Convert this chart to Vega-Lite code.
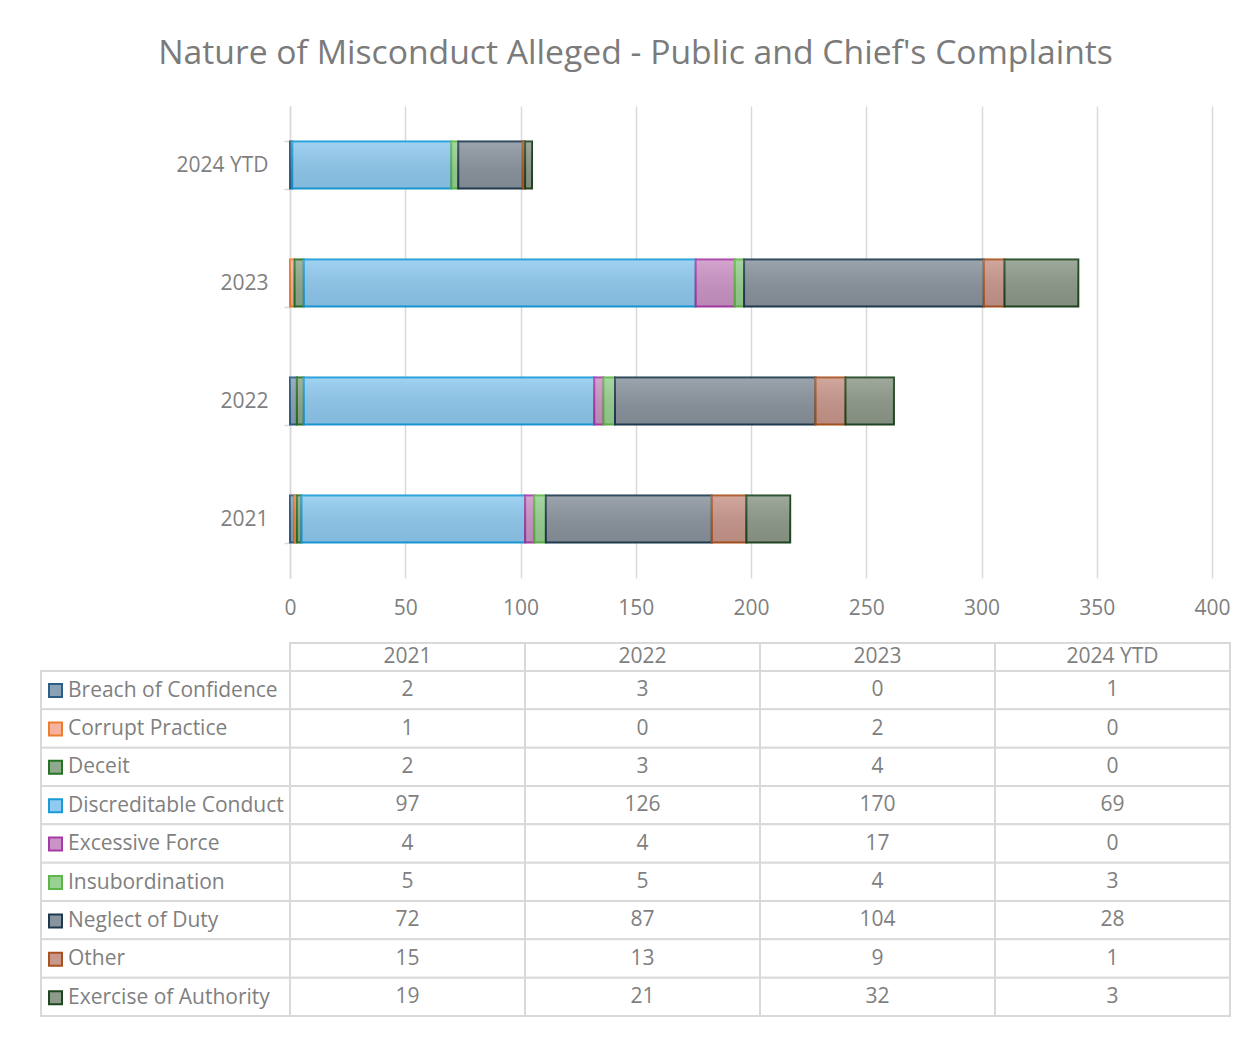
{
  "$schema": "https://vega.github.io/schema/vega-lite/v6.json",
  "padding": {"left": 40, "top": 37, "right": 0, "bottom": 0},
  "title": {"text": "Nature of Misconduct Alleged - Public and Chief's Complaints", "anchor": "middle", "frame": "bounds", "fontSize": 33.7, "font": "Open Sans", "fontWeight": "normal", "color": "#7b7b7b", "offset": 24},
  "datasets": {
    "d": [
      {"cat": "Breach of Confidence", "k": 1, "year": "2021", "n": 2},
      {"cat": "Breach of Confidence", "k": 1, "year": "2022", "n": 3},
      {"cat": "Breach of Confidence", "k": 1, "year": "2023", "n": 0},
      {"cat": "Breach of Confidence", "k": 1, "year": "2024 YTD", "n": 1},
      {"cat": "Corrupt Practice", "k": 2, "year": "2021", "n": 1},
      {"cat": "Corrupt Practice", "k": 2, "year": "2022", "n": 0},
      {"cat": "Corrupt Practice", "k": 2, "year": "2023", "n": 2},
      {"cat": "Corrupt Practice", "k": 2, "year": "2024 YTD", "n": 0},
      {"cat": "Deceit", "k": 3, "year": "2021", "n": 2},
      {"cat": "Deceit", "k": 3, "year": "2022", "n": 3},
      {"cat": "Deceit", "k": 3, "year": "2023", "n": 4},
      {"cat": "Deceit", "k": 3, "year": "2024 YTD", "n": 0},
      {"cat": "Discreditable Conduct", "k": 4, "year": "2021", "n": 97},
      {"cat": "Discreditable Conduct", "k": 4, "year": "2022", "n": 126},
      {"cat": "Discreditable Conduct", "k": 4, "year": "2023", "n": 170},
      {"cat": "Discreditable Conduct", "k": 4, "year": "2024 YTD", "n": 69},
      {"cat": "Excessive Force", "k": 5, "year": "2021", "n": 4},
      {"cat": "Excessive Force", "k": 5, "year": "2022", "n": 4},
      {"cat": "Excessive Force", "k": 5, "year": "2023", "n": 17},
      {"cat": "Excessive Force", "k": 5, "year": "2024 YTD", "n": 0},
      {"cat": "Insubordination", "k": 6, "year": "2021", "n": 5},
      {"cat": "Insubordination", "k": 6, "year": "2022", "n": 5},
      {"cat": "Insubordination", "k": 6, "year": "2023", "n": 4},
      {"cat": "Insubordination", "k": 6, "year": "2024 YTD", "n": 3},
      {"cat": "Neglect of Duty", "k": 7, "year": "2021", "n": 72},
      {"cat": "Neglect of Duty", "k": 7, "year": "2022", "n": 87},
      {"cat": "Neglect of Duty", "k": 7, "year": "2023", "n": 104},
      {"cat": "Neglect of Duty", "k": 7, "year": "2024 YTD", "n": 28},
      {"cat": "Other", "k": 8, "year": "2021", "n": 15},
      {"cat": "Other", "k": 8, "year": "2022", "n": 13},
      {"cat": "Other", "k": 8, "year": "2023", "n": 9},
      {"cat": "Other", "k": 8, "year": "2024 YTD", "n": 1},
      {"cat": "Exercise of Authority", "k": 9, "year": "2021", "n": 19},
      {"cat": "Exercise of Authority", "k": 9, "year": "2022", "n": 21},
      {"cat": "Exercise of Authority", "k": 9, "year": "2023", "n": 32},
      {"cat": "Exercise of Authority", "k": 9, "year": "2024 YTD", "n": 3}
    ]
  },
  "data": {"name": "d"},
  "columns": 2,
  "spacing": 0,
  "bounds": "flush",
  "resolve": {"scale": {"fill": "independent", "stroke": "independent", "x": "independent", "y": "independent"}},
  "concat": [
    {"width": 249, "height": 472, "data": {"values": [{}]}, "mark": {"type": "text", "text": ""}},
    {
      "width": 922, "height": 472,
      "transform": [{"filter": "datum.n > 0"}],
      "encoding": {
        "y": {"field": "year", "type": "nominal", "sort": ["2024 YTD", "2023", "2022", "2021"],
          "scale": {"paddingInner": 0.6, "paddingOuter": 0.3},
          "axis": {"title": null, "domain": true, "domainColor": "#d9d9d9", "domainWidth": 1.5, "ticks": true, "tickColor": "#d9d9d9", "tickWidth": 1.5, "tickSize": 6, "tickBand": "extent", "labelFontSize": 21, "labelColor": "#7f7f7f", "labelPadding": 16, "grid": false}}
      },
      "layer": [
        {
          "mark": {"type": "bar", "strokeWidth": 2},
          "encoding": {
            "x": {"field": "n", "type": "quantitative", "stack": "zero", "scale": {"domain": [0, 400]},
              "axis": {"title": null, "values": [0, 50, 100, 150, 200, 250, 300, 350, 400], "grid": true, "gridColor": "#d9d9d9", "gridWidth": 1.5, "domain": false, "ticks": false, "tickSize": 0, "labelFlush": false, "labelFontSize": 21, "labelColor": "#7f7f7f", "labelPadding": 19}},
            "order": {"field": "k", "type": "quantitative", "sort": "ascending"},
            "fill": {"field": "cat", "type": "nominal", "legend": null,
              "scale": {"domain": ["Breach of Confidence", "Corrupt Practice", "Deceit", "Discreditable Conduct", "Excessive Force", "Insubordination", "Neglect of Duty", "Other", "Exercise of Authority"],
                "range": ["#8ba1b5", "#f5b29c", "#8fa98d", "#8fcaf0", "#cc94c6", "#98d191", "#8a949e", "#c9978c", "#8e9a8a"]}},
            "stroke": {"field": "cat", "type": "nominal", "legend": null,
              "scale": {"domain": ["Breach of Confidence", "Corrupt Practice", "Deceit", "Discreditable Conduct", "Excessive Force", "Insubordination", "Neglect of Duty", "Other", "Exercise of Authority"],
                "range": ["#2c5f87", "#ed7d31", "#267326", "#1b9ad8", "#a63aa6", "#5fb548", "#1f3a4f", "#a8521f", "#1e4620"]}}
          }
        },
        {
          "mark": {"type": "bar", "stroke": null, "fill": {"gradient": "linear", "x1": 0, "y1": 0, "x2": 0, "y2": 1, "stops": [{"offset": 0, "color": "rgba(255,255,255,0.16)"}, {"offset": 1, "color": "rgba(0,0,0,0.08)"}]}},
          "encoding": {
            "x": {"aggregate": "sum", "field": "n", "type": "quantitative"}
          }
        }
      ]
    },
    {"width": 249, "height": 65, "data": {"values": [{}]}, "mark": {"type": "text", "text": ""}},
    {"width": 940, "height": 65, "data": {"values": [{}]}, "mark": {"type": "text", "text": ""}},
    {"width": 249, "height": 28, "data": {"values": [{}]}, "mark": {"type": "text", "text": ""}},
    {
      "width": 940, "height": 28,
      "transform": [{"filter": "datum.cat == 'Breach of Confidence'"}],
      "encoding": {
        "x": {"field": "year", "type": "nominal", "sort": ["2021", "2022", "2023", "2024 YTD"], "scale": {"paddingInner": 0, "paddingOuter": 0}, "axis": null}
      },
      "layer": [
        {"mark": {"type": "rect", "fill": "white", "stroke": "#d9d9d9", "strokeWidth": 2}},
        {"mark": {"type": "text", "fontSize": 21, "color": "#7f7f7f", "font": "Open Sans"}, "encoding": {"text": {"field": "year"}}}
      ]
    },
    {
      "width": 249, "height": 345,
      "transform": [{"filter": "datum.year == '2021'"}],
      "encoding": {
        "y": {"field": "cat", "type": "nominal", "sort": ["Breach of Confidence", "Corrupt Practice", "Deceit", "Discreditable Conduct", "Excessive Force", "Insubordination", "Neglect of Duty", "Other", "Exercise of Authority"], "scale": {"paddingInner": 0, "paddingOuter": 0}, "axis": null}
      },
      "layer": [
        {"mark": {"type": "rect", "fill": "white", "stroke": "#d9d9d9", "strokeWidth": 2}},
        {
          "mark": {"type": "text", "text": ""},
          "encoding": {
            "fill": {"field": "cat", "type": "nominal",
              "scale": {"domain": ["Breach of Confidence", "Corrupt Practice", "Deceit", "Discreditable Conduct", "Excessive Force", "Insubordination", "Neglect of Duty", "Other", "Exercise of Authority"],
                "range": ["#8ba1b5", "#f5b29c", "#8fa98d", "#8fcaf0", "#cc94c6", "#98d191", "#8a949e", "#c9978c", "#8e9a8a"]},
              "legend": {"title": null, "orient": "none", "legendX": 4, "legendY": 9, "padding": 0, "symbolType": "square", "symbolSize": 169, "symbolStrokeWidth": 2, "symbolOpacity": 1, "labelFontSize": 21, "labelColor": "#7f7f7f", "labelFont": "Open Sans", "rowPadding": 16.4, "labelOffset": 2, "labelLimit": 300}},
            "stroke": {"field": "cat", "type": "nominal",
              "scale": {"domain": ["Breach of Confidence", "Corrupt Practice", "Deceit", "Discreditable Conduct", "Excessive Force", "Insubordination", "Neglect of Duty", "Other", "Exercise of Authority"],
                "range": ["#2c5f87", "#ed7d31", "#267326", "#1b9ad8", "#a63aa6", "#5fb548", "#1f3a4f", "#a8521f", "#1e4620"]},
              "legend": {"title": null, "orient": "none", "legendX": 4, "legendY": 9, "padding": 0, "symbolType": "square", "symbolSize": 169, "symbolStrokeWidth": 2, "symbolOpacity": 1, "labelFontSize": 21, "labelColor": "#7f7f7f", "labelFont": "Open Sans", "rowPadding": 16.4, "labelOffset": 2, "labelLimit": 300}}
          }
        }
      ]
    },
    {
      "width": 940, "height": 345,
      "encoding": {
        "x": {"field": "year", "type": "nominal", "sort": ["2021", "2022", "2023", "2024 YTD"], "scale": {"paddingInner": 0, "paddingOuter": 0}, "axis": null},
        "y": {"field": "cat", "type": "nominal", "sort": ["Breach of Confidence", "Corrupt Practice", "Deceit", "Discreditable Conduct", "Excessive Force", "Insubordination", "Neglect of Duty", "Other", "Exercise of Authority"], "scale": {"paddingInner": 0, "paddingOuter": 0}, "axis": null}
      },
      "layer": [
        {"mark": {"type": "rect", "fill": "white", "stroke": "#d9d9d9", "strokeWidth": 2}},
        {"mark": {"type": "text", "fontSize": 21, "color": "#7f7f7f", "font": "Open Sans"}, "encoding": {"text": {"field": "n", "type": "quantitative"}}}
      ]
    }
  ],
  "config": {
    "view": {"stroke": null},
    "font": "Open Sans",
    "axis": {"labelFont": "Open Sans"}
  }
}
